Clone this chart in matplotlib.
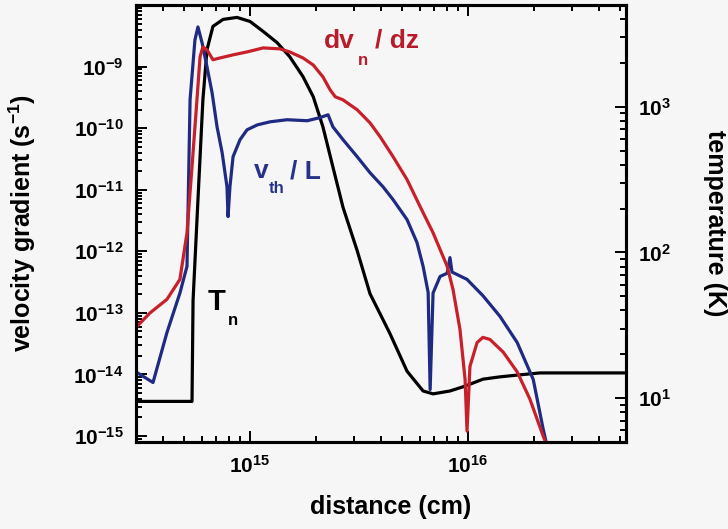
import numpy as np
import matplotlib as mpl
mpl.use('agg')
import matplotlib.pyplot as plt
from matplotlib.ticker import LogLocator, NullFormatter

plt.rcParams['font.family'] = 'Liberation Sans'
plt.rcParams['font.weight'] = 'bold'
plt.rcParams['mathtext.fontset'] = 'custom'
plt.rcParams['mathtext.rm'] = 'Liberation Sans:bold'
plt.rcParams['mathtext.it'] = 'Liberation Sans:bold'
plt.rcParams['mathtext.bf'] = 'Liberation Sans:bold'
plt.rcParams['mathtext.default'] = 'rm'

# neutral temperature T_n (K), right axis
dist_T = [3.0e14, 5.42e14, 5.48e14, 5.77e14, 6.08e14, 6.35e14, 6.76e14, 7.52e14,
          8.71e14, 1.0e15, 1.15e15, 1.33e15, 1.52e15, 1.75e15, 1.95e15, 2.16e15,
          2.40e15, 2.67e15, 3.10e15, 3.55e15, 3.95e15, 4.39e15, 5.25e15, 6.22e15,
          6.91e15, 8.26e15, 9.69e15, 1.17e16, 1.40e16, 1.68e16, 2.14e16, 5.3e16]
temp_T = [9.5, 9.5, 46.7, 229, 1117, 2472, 3565, 3981,
          4111, 3855, 3289, 2761, 2211, 1611, 1172, 728,
          386, 204, 103, 52.1, 37.9, 27.6, 15.3, 11.2,
          10.7, 11.2, 12.1, 13.5, 14.0, 14.4, 14.9, 14.9]

# dv_n/dz (s^-1)
dist_dv = [3.0e14, 3.48e14, 4.16e14, 4.77e14, 5.14e14, 5.42e14, 5.71e14, 5.90e14,
           6.08e14, 6.35e14, 6.76e14, 7.28e14, 8.36e14, 9.69e14, 1.15e15, 1.37e15,
           1.52e15, 1.75e15, 1.95e15, 2.16e15, 2.33e15, 2.46e15, 2.67e15, 3.10e15,
           3.55e15, 3.95e15, 4.53e15, 5.25e15, 6.03e15, 6.91e15, 8.02e15, 8.53e15,
           9.18e15, 9.69e15, 9.89e15, 1.02e16, 1.10e16, 1.17e16, 1.26e16, 1.45e16,
           1.68e16, 1.92e16, 2.21e16, 2.30e16]
grad_dv = [5.8e-14, 1.0e-13, 1.66e-13, 3.5e-13, 2.0e-12, 2.37e-11, 2.88e-10, 1.44e-9,
           2.08e-9, 1.87e-9, 1.29e-9, 1.38e-9, 1.55e-9, 1.73e-9, 2.01e-9, 1.94e-9,
           1.73e-9, 1.38e-9, 1.06e-9, 6.8e-10, 4.19e-10, 3.23e-10, 2.88e-10, 1.99e-10,
           1.22e-10, 7.26e-11, 3.44e-11, 1.46e-11, 5.3e-12, 2.0e-12, 5.7e-13, 2.4e-13,
           5.4e-14, 8.3e-15, 1.2e-15, 1.35e-14, 3.3e-14, 4.0e-14, 3.7e-14, 2.3e-14,
           1.1e-14, 4.0e-15, 1.0e-15, 7e-16]

# v_th/L (s^-1)
dist_vl = [3.0e14, 3.59e14, 4.16e14, 4.77e14, 5.14e14, 5.31e14, 5.59e14, 5.77e14,
           6.03e14, 6.35e14, 6.70e14, 7.06e14, 7.45e14, 7.84e14, 7.93e14, 8.09e14,
           8.36e14, 9.0e14, 9.69e14, 1.08e15, 1.24e15, 1.48e15, 1.83e15, 2.09e15,
           2.28e15, 2.40e15, 2.67e15, 3.10e15, 3.55e15, 4.07e15, 4.53e15, 5.25e15,
           5.83e15, 6.22e15, 6.56e15, 6.70e15, 6.91e15, 7.44e15, 8.02e15, 8.26e15,
           8.44e15, 9.89e15, 1.17e16, 1.40e16, 1.68e16, 1.99e16, 2.21e16, 2.30e16]
grad_vl = [1.1e-14, 7.4e-15, 4.8e-14, 2.1e-13, 5.7e-13, 2.9e-10, 2.71e-9, 4.4e-9,
           2.42e-9, 9.9e-10, 3.75e-10, 1.05e-10, 4.0e-11, 1.12e-11, 3.66e-12, 1.12e-11,
           3.44e-11, 6.5e-11, 9.4e-11, 1.13e-10, 1.27e-10, 1.37e-10, 1.32e-10, 1.48e-10,
           1.65e-10, 1.05e-10, 6.5e-11, 3.44e-11, 1.89e-11, 1.12e-11, 6.9e-12, 3.27e-12,
           1.39e-12, 5.7e-13, 2.15e-13, 5.7e-15, 2.1e-13, 3.9e-13, 4.4e-13, 7.9e-13,
           4.6e-13, 3.5e-13, 1.9e-13, 8.8e-14, 3.3e-14, 8.3e-15, 1.3e-15, 7e-16]

grad_exps = [-15, -14, -13, -12, -11, -10, -9]
temp_exps = [1, 2, 3]
dist_exps = [15, 16]

bg = '#f6f6f6'
red = '#c8202a'
blue = '#1f2a82'

fig = plt.figure(figsize=(7.28, 5.29), dpi=100, facecolor=bg)
ax = fig.add_axes([136 / 728, 87 / 529, 490 / 728, 437 / 529])
ax2 = ax.twinx()
ax.set_zorder(ax2.get_zorder() + 1)
ax.patch.set_visible(False)
ax2.patch.set_facecolor(bg)

ax2.plot(dist_T, temp_T, color='black', lw=2.3, solid_joinstyle='round')
ax.plot(dist_vl, grad_vl, color=blue, lw=2.3, solid_joinstyle='round')
ax.plot(dist_dv, grad_dv, color=red, lw=2.3, solid_joinstyle='round')

ax.set_xscale('log')
ax.set_yscale('log')
ax2.set_yscale('log')
ax.set_xlim(3e14, 5.3e16)
ax.set_ylim(8e-16, 1e-8)
ax2.set_ylim(5, 5000)

ax.set_xticks([10.0 ** e for e in dist_exps])
ax.set_xticklabels([r'$10^{%d}$' % e for e in dist_exps])
ax.set_yticks([10.0 ** e for e in grad_exps])
ax.set_yticklabels([r'$10^{%d}$' % e for e in grad_exps])
ax2.set_yticks([10.0 ** e for e in temp_exps])
ax2.set_yticklabels([r'$10^{%d}$' % e for e in temp_exps])
for a in (ax.xaxis, ax.yaxis, ax2.yaxis):
    a.set_minor_locator(LogLocator(base=10, subs=np.arange(2, 10), numticks=60))
    a.set_minor_formatter(NullFormatter())

ax.tick_params(which='both', direction='in', top=True, right=False, width=1.4,
               labelsize=15, pad=9)
ax.tick_params(which='major', length=8)
ax.tick_params(which='minor', length=4)
ax2.tick_params(which='both', direction='in', width=1.4, labelsize=15, pad=9)
ax2.tick_params(which='major', length=8)
ax2.tick_params(which='minor', length=4)
for a in (ax, ax2):
    for s in a.spines.values():
        s.set_linewidth(2.2)

fig.text(0.030, 1 - 223 / 529, r'velocity gradient (s$^{-1}$)', rotation=90,
         ha='center', va='center', fontsize=18)
fig.text(0.537, 0.042, 'distance (cm)', ha='center', va='center', fontsize=18)
fig.text(0.982, 1 - 223 / 529, 'temperature (K)', rotation=270,
         ha='center', va='center', fontsize=18)

tr = ax.transAxes
dark_red = '#b81c2a'
dark_blue = '#27338a'
ax.text(0.384, 0.902, 'dv', color=dark_red, fontsize=19, transform=tr, va='baseline')
ax.text(0.453, 0.863, 'n', color=dark_red, fontsize=12, transform=tr, va='baseline')
ax.text(0.488, 0.902, '/ dz', color=dark_red, fontsize=19, transform=tr, va='baseline')
ax.text(0.241, 0.604, 'v', color=dark_blue, fontsize=19, transform=tr, va='baseline')
ax.text(0.271, 0.570, 'th', color=dark_blue, fontsize=12, transform=tr, va='baseline')
ax.text(0.314, 0.604, '/ L', color=dark_blue, fontsize=19, transform=tr, va='baseline')
ax.text(0.147, 0.302, 'T', color='black', fontsize=21, transform=tr, va='baseline')
ax.text(0.188, 0.268, 'n', color='black', fontsize=12, transform=tr, va='baseline')

fig.savefig('out.png', dpi=100, facecolor=bg)
